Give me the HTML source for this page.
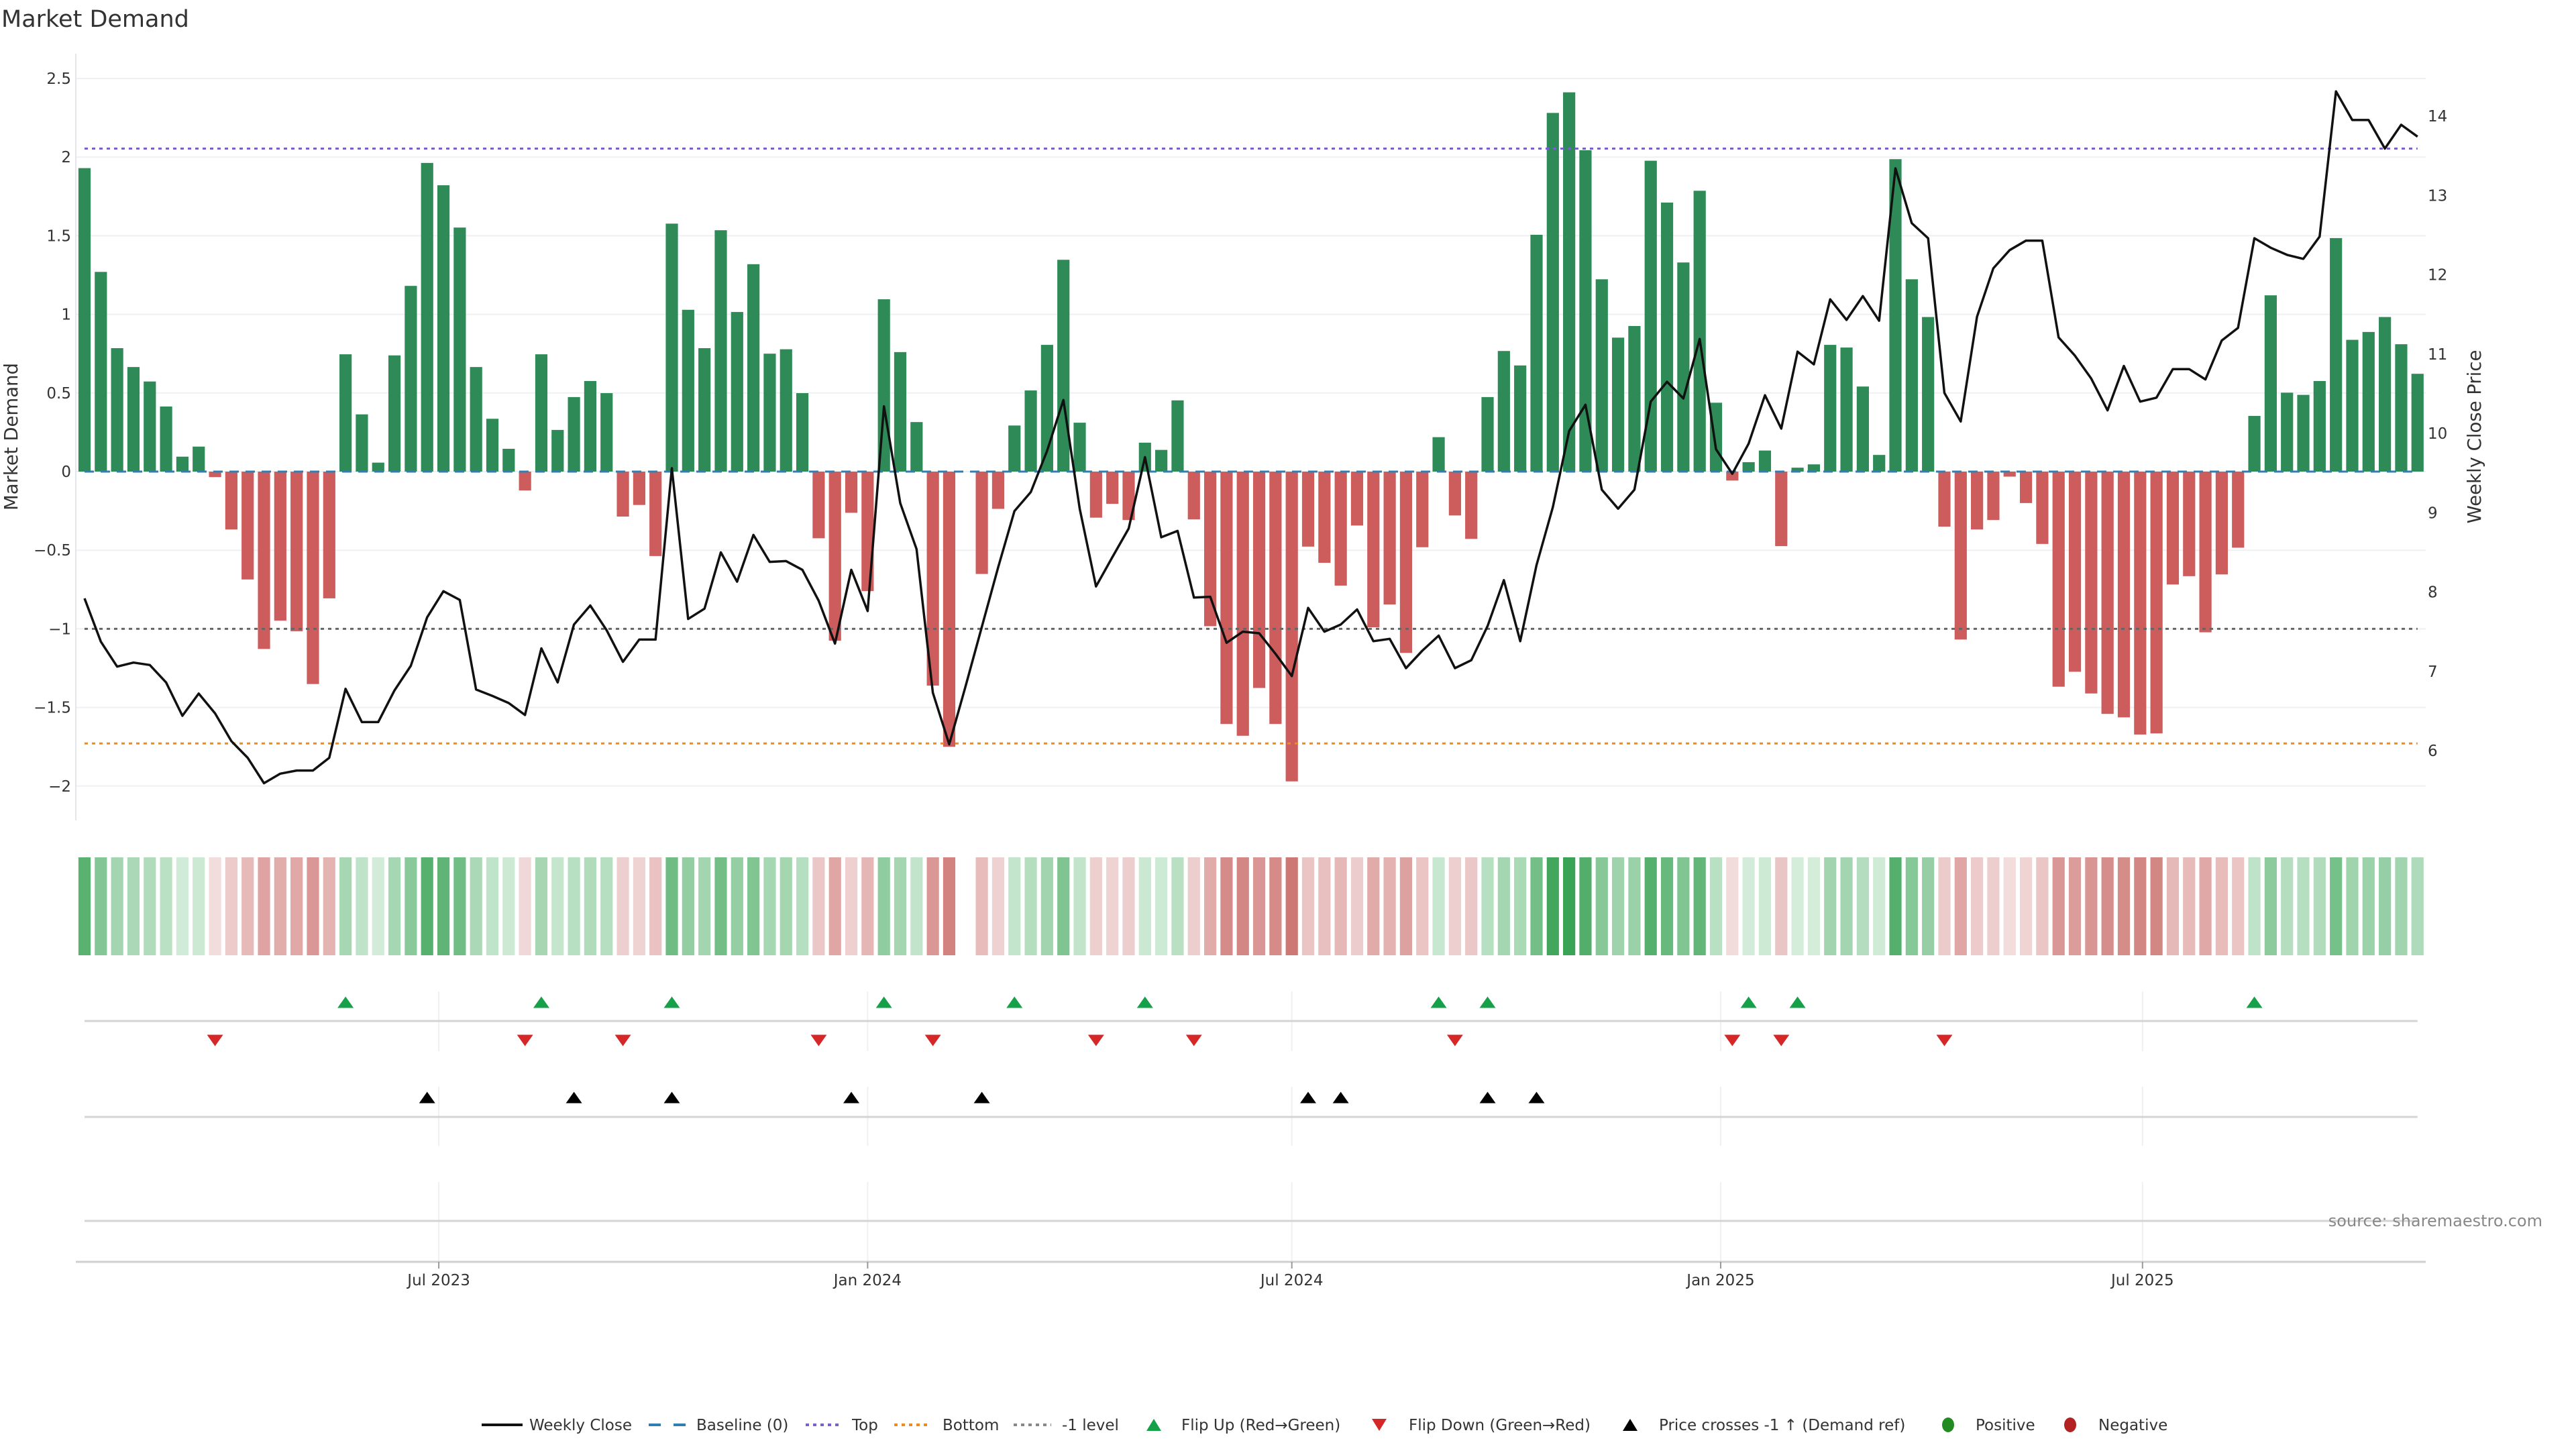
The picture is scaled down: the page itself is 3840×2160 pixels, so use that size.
<!DOCTYPE html>
<html><head><meta charset="utf-8">
<style>
html,body{margin:0;padding:0;background:#fff;}
svg{display:block;font-family:"DejaVu Sans","Liberation Sans",sans-serif;}
</style></head>
<body>
<svg id="chart" width="3840" height="2160" viewBox="0 0 3840 2160" xmlns="http://www.w3.org/2000/svg">
<rect width="3840" height="2160" fill="#fff"/>
<text x="2" y="40" font-size="35" fill="#333">Market Demand</text>
<text transform="translate(26,651) rotate(-90)" font-size="27.5" fill="#333" text-anchor="middle">Market Demand</text>
<text transform="translate(3698,651) rotate(-90)" font-size="27.5" fill="#333" text-anchor="middle">Weekly Close Price</text>
<g id="grid"></g>
<g id="bars"></g>
<g id="refs"></g>
<g id="line"></g>
<g id="heat"></g>
<g id="markers"></g>
<g id="xaxis"></g>
<text x="3790" y="1828" font-size="24" fill="#888" text-anchor="end">source: sharemaestro.com</text>
<g id="legend"></g>
</svg>
<script>
const demand = [1.93,1.27,0.785,0.665,0.573,0.414,0.095,0.159,-0.035,-0.368,-0.686,-1.128,-0.948,-1.015,-1.351,-0.806,0.746,0.364,0.057,0.739,1.181,1.963,1.821,1.552,0.665,0.336,0.145,-0.12,0.746,0.265,0.474,0.576,0.499,-0.286,-0.212,-0.537,1.577,1.029,0.785,1.535,1.015,1.319,0.75,0.778,0.499,-0.424,-1.075,-0.262,-0.76,1.096,0.76,0.315,-1.361,-1.75,null,-0.651,-0.237,0.293,0.516,0.806,1.347,0.311,-0.293,-0.205,-0.308,0.184,0.138,0.453,-0.304,-0.983,-1.605,-1.68,-1.376,-1.605,-1.97,-0.477,-0.58,-0.725,-0.343,-0.99,-0.845,-1.153,-0.481,0.219,-0.279,-0.428,0.474,0.767,0.675,1.506,2.281,2.412,2.044,1.223,0.852,0.926,1.977,1.711,1.33,1.786,0.438,-0.057,0.06,0.134,-0.474,0.025,0.046,0.806,0.789,0.541,0.106,1.987,1.223,0.983,-0.35,-1.068,-0.368,-0.308,-0.032,-0.2,-0.46,-1.368,-1.273,-1.411,-1.541,-1.563,-1.672,-1.665,-0.718,-0.665,-1.022,-0.654,-0.484,0.354,1.121,0.502,0.488,0.576,1.485,0.838,0.888,0.983,0.81,0.622];
const price = [7.92,7.375,7.06,7.11,7.08,6.86,6.44,6.72,6.47,6.12,5.91,5.59,5.71,5.75,5.75,5.91,6.78,6.36,6.36,6.76,7.07,7.68,8.01,7.90,6.77,6.69,6.60,6.45,7.29,6.86,7.59,7.83,7.52,7.12,7.40,7.40,9.56,7.66,7.79,8.50,8.13,8.72,8.38,8.39,8.28,7.89,7.35,8.28,7.76,10.34,9.12,8.54,6.73,6.08,6.81,7.56,8.31,9.02,9.26,9.78,10.42,9.05,8.07,8.44,8.80,9.70,8.69,8.77,7.93,7.94,7.36,7.50,7.48,7.22,6.94,7.80,7.50,7.59,7.78,7.38,7.41,7.04,7.26,7.45,7.04,7.14,7.57,8.15,7.38,8.34,9.07,10.03,10.36,9.29,9.05,9.29,10.40,10.65,10.44,11.19,9.80,9.49,9.87,10.48,10.06,11.03,10.87,11.69,11.43,11.73,11.42,13.34,12.65,12.46,10.51,10.15,11.47,12.08,12.31,12.43,12.43,11.21,10.98,10.69,10.29,10.85,10.40,10.45,10.81,10.81,10.68,11.17,11.33,12.46,12.34,12.25,12.20,12.48,14.31,13.95,13.95,13.59,13.89,13.74];
const leftTicks = [2.5,2,1.5,1,0.5,0,-0.5,-1,-1.5,-2];
const leftTickLabels = ["2.5","2","1.5","1","0.5","0","\u22120.5","\u22121","\u22121.5","\u22122"];
const rightTicks = [6,7,8,9,10,11,12,13,14];
const refTop = [2.054];
const refBottom = [-1.729];
const refMinus1 = [-1];
const xTickDates = ["2023-07-01","2024-01-01","2024-07-01","2025-01-01","2025-07-01"];
const xTickLabels = ["Jul 2023","Jan 2024","Jul 2024","Jan 2025","Jul 2025"];
const startDate = "2023-01-30";

const NS = "http://www.w3.org/2000/svg";
function mk(parent, tag, attrs){ const e=document.createElementNS(NS,tag); for(const k in attrs) e.setAttribute(k,attrs[k]); parent.appendChild(e); return e; }
const X0 = 126, STEP = 24.32, PLOT_L = 113, PLOT_R = 3616;
const xi = i => X0 + i*STEP;
const dayPx = STEP/7;
const xDate = s => X0 + (new Date(s) - new Date(startDate))/86400000*dayPx;
const yL = v => 703 - 234.4*v;
const yR = p => 1119 - 118.25*(p-6);
const pFromY = y => 6 + (1119-y)/118.25;

const grid = document.getElementById('grid');
leftTicks.forEach((t,k)=>{
  const g = mk(grid,'line',{x1:PLOT_L,x2:PLOT_R,y1:yL(t),y2:yL(t),stroke:'#eef0f3','stroke-width':2});
  
  
  const tx = mk(grid,'text',{x:106,y:yL(t)+8,'font-size':23,fill:'#333','text-anchor':'end'});
  tx.textContent = leftTickLabels[k];
  
  
});
rightTicks.forEach(t=>{
  const tx = mk(grid,'text',{x:3619,y:yR(t)+8,'font-size':23,fill:'#333'});
  tx.textContent = String(t);
  
  
});
const ax = mk(grid,'line',{x1:PLOT_L,x2:PLOT_L,y1:80,y2:1223,stroke:'#e4e6ea','stroke-width':2});



const bars = document.getElementById('bars');
demand.forEach((v,i)=>{
  if(v===null) return;
  const y0=yL(0), y1=yL(v);
  const r = mk(bars,'rect',{x:xi(i)-9.1,width:18.2,y:Math.min(y0,y1),height:Math.max(1,Math.abs(y1-y0)),fill:v>=0?'#2e8b57':'#cd5c5c'});
  
  
});

const refs = document.getElementById('refs');
function ref(v,color,name,dash,w){
  const l = mk(refs,'line',{x1:X0,x2:xi(demand.length-1),y1:yL(v),y2:yL(v),stroke:color,'stroke-width':w,'stroke-dasharray':dash});
  
  
}
ref(0,'#2f7fb5','baseline-zero','14 10',3);
ref(refTop[0],'#7a5fd0','top-level-line','5 6',3);
ref(refBottom[0],'#ef8a1c','bottom-level-line','5 6',3);
ref(refMinus1[0],'#666','minus-one-level-line','5 6',3);

const lineG = document.getElementById('line');
const pts = price.map((p,i)=>xi(i).toFixed(1)+','+yR(p).toFixed(1)).join(' ');
const pl = mk(lineG,'polyline',{points:pts,fill:'none',stroke:'#111','stroke-width':3.5,'stroke-linejoin':'round'});



const heat = document.getElementById('heat');
function lerp(a,b,t){return a.map((x,k)=>Math.round(x+(b[k]-x)*t));}
demand.forEach((v,i)=>{
  if(v===null) return;
  let c;
  if(v>=0) c=lerp([214,238,220],[52,160,80],Math.min(v/2.5,1));
  else c=lerp([243,222,222],[205,118,115],Math.min(-v/2.0,1));
  const r = mk(heat,'rect',{x:xi(i)-9.1,width:18.2,y:1278,height:146,fill:'rgb('+c.join(',')+')'});
  
  
});

const mg = document.getElementById('markers');
[[1478,1567],[1620,1708],[1762,1881]].forEach(([a,b])=>{
  xTickDates.forEach(d=>{
    const l = mk(mg,'line',{x1:xDate(d),x2:xDate(d),y1:a,y2:b,stroke:'#eef0f3','stroke-width':2});
    
    
  });
});
[1522,1665,1820].forEach((y,k)=>{
  const l = mk(mg,'line',{x1:X0,x2:xi(demand.length-1),y1:y,y2:y,stroke:'#d4d4d4','stroke-width':3});
  
  
});
function tri(x,y,up,color,name){
  const w=12,h=17;
  const p = up ? [[x,y-h/2],[x+w,y+h/2],[x-w,y+h/2]] : [[x-w,y-h/2],[x+w,y-h/2],[x,y+h/2]];
  const t = mk(mg,'polygon',{points:p.map(q=>q.join(',')).join(' '),fill:color});
  
  
}
let prev=null;
demand.forEach((v,i)=>{
  if(v===null) return;
  if(prev!==null){
    if(prev<0 && v>=0) tri(xi(i),1494,true,'#17a04a','flip-up-marker');
    if(prev>=0 && v<0) tri(xi(i),1551,false,'#d62728','flip-down-marker');
  }
  prev=v;
});
const thr = pFromY(yL(refMinus1[0]));
price.forEach((p,i)=>{
  if(i>0 && price[i-1]<thr && p>=thr) tri(xi(i),1636,true,'#000','price-cross-marker');
});

const xg = document.getElementById('xaxis');
const xl = mk(xg,'line',{x1:PLOT_L,x2:PLOT_R,y1:1881,y2:1881,stroke:'#cfcfcf','stroke-width':3});


xTickDates.forEach((d,k)=>{
  const x=xDate(d);
  const t = mk(xg,'line',{x1:x,x2:x,y1:1881,y2:1891,stroke:'#999','stroke-width':2});
  
  
  const tx = mk(xg,'text',{x:x,y:1916,'font-size':23,fill:'#333','text-anchor':'middle'});
  tx.textContent = xTickLabels[k];
  
  
});

const lg = document.getElementById('legend');
const LY = 2124;
function ltext(x,s){ const t=mk(lg,'text',{x:x,y:LY+8,'font-size':23,fill:'#333'}); t.textContent=s;   }
function lline(x1,x2,color,dash,w,name){ const l=mk(lg,'line',{x1:x1,x2:x2,y1:LY,y2:LY,stroke:color,'stroke-width':w,'stroke-dasharray':dash});   }
lline(718,779,'#111','none',4,'legend-weekly-close'); ltext(789,'Weekly Close');
lline(967,1022,'#2f7fb5','18 19',4,'legend-baseline'); ltext(1038,'Baseline (0)');
lline(1201,1256,'#7a5fd0','5 6',4,'legend-top'); ltext(1270,'Top');
lline(1333,1388,'#ef8a1c','5 6',4,'legend-bottom'); ltext(1405,'Bottom');
lline(1511,1567,'#888','5 6',4,'legend-minus-one'); ltext(1583,'-1 level');
function ltri(x,up,color,name){ const w=11,h=18,y=LY; const p= up?[[x,y-h/2],[x+w,y+h/2],[x-w,y+h/2]]:[[x-w,y-h/2],[x+w,y-h/2],[x,y+h/2]]; const t=mk(lg,'polygon',{points:p.map(q=>q.join(',')).join(' '),fill:color});   }
ltri(1720,true,'#17a04a','legend-flip-up'); ltext(1761,'Flip Up (Red\u2192Green)');
ltri(2056,false,'#d62728','legend-flip-down'); ltext(2100,'Flip Down (Green\u2192Red)');
ltri(2430,true,'#000','legend-price-cross'); ltext(2473,'Price crosses -1 \u2191 (Demand ref)');
const c1=mk(lg,'ellipse',{cx:2904,cy:LY,rx:9,ry:11,fill:'#228b22'});   ltext(2945,'Positive');
const c2=mk(lg,'ellipse',{cx:3086,cy:LY,rx:9,ry:11,fill:'#b22222'});   ltext(3128,'Negative');
</script>
</body></html>
